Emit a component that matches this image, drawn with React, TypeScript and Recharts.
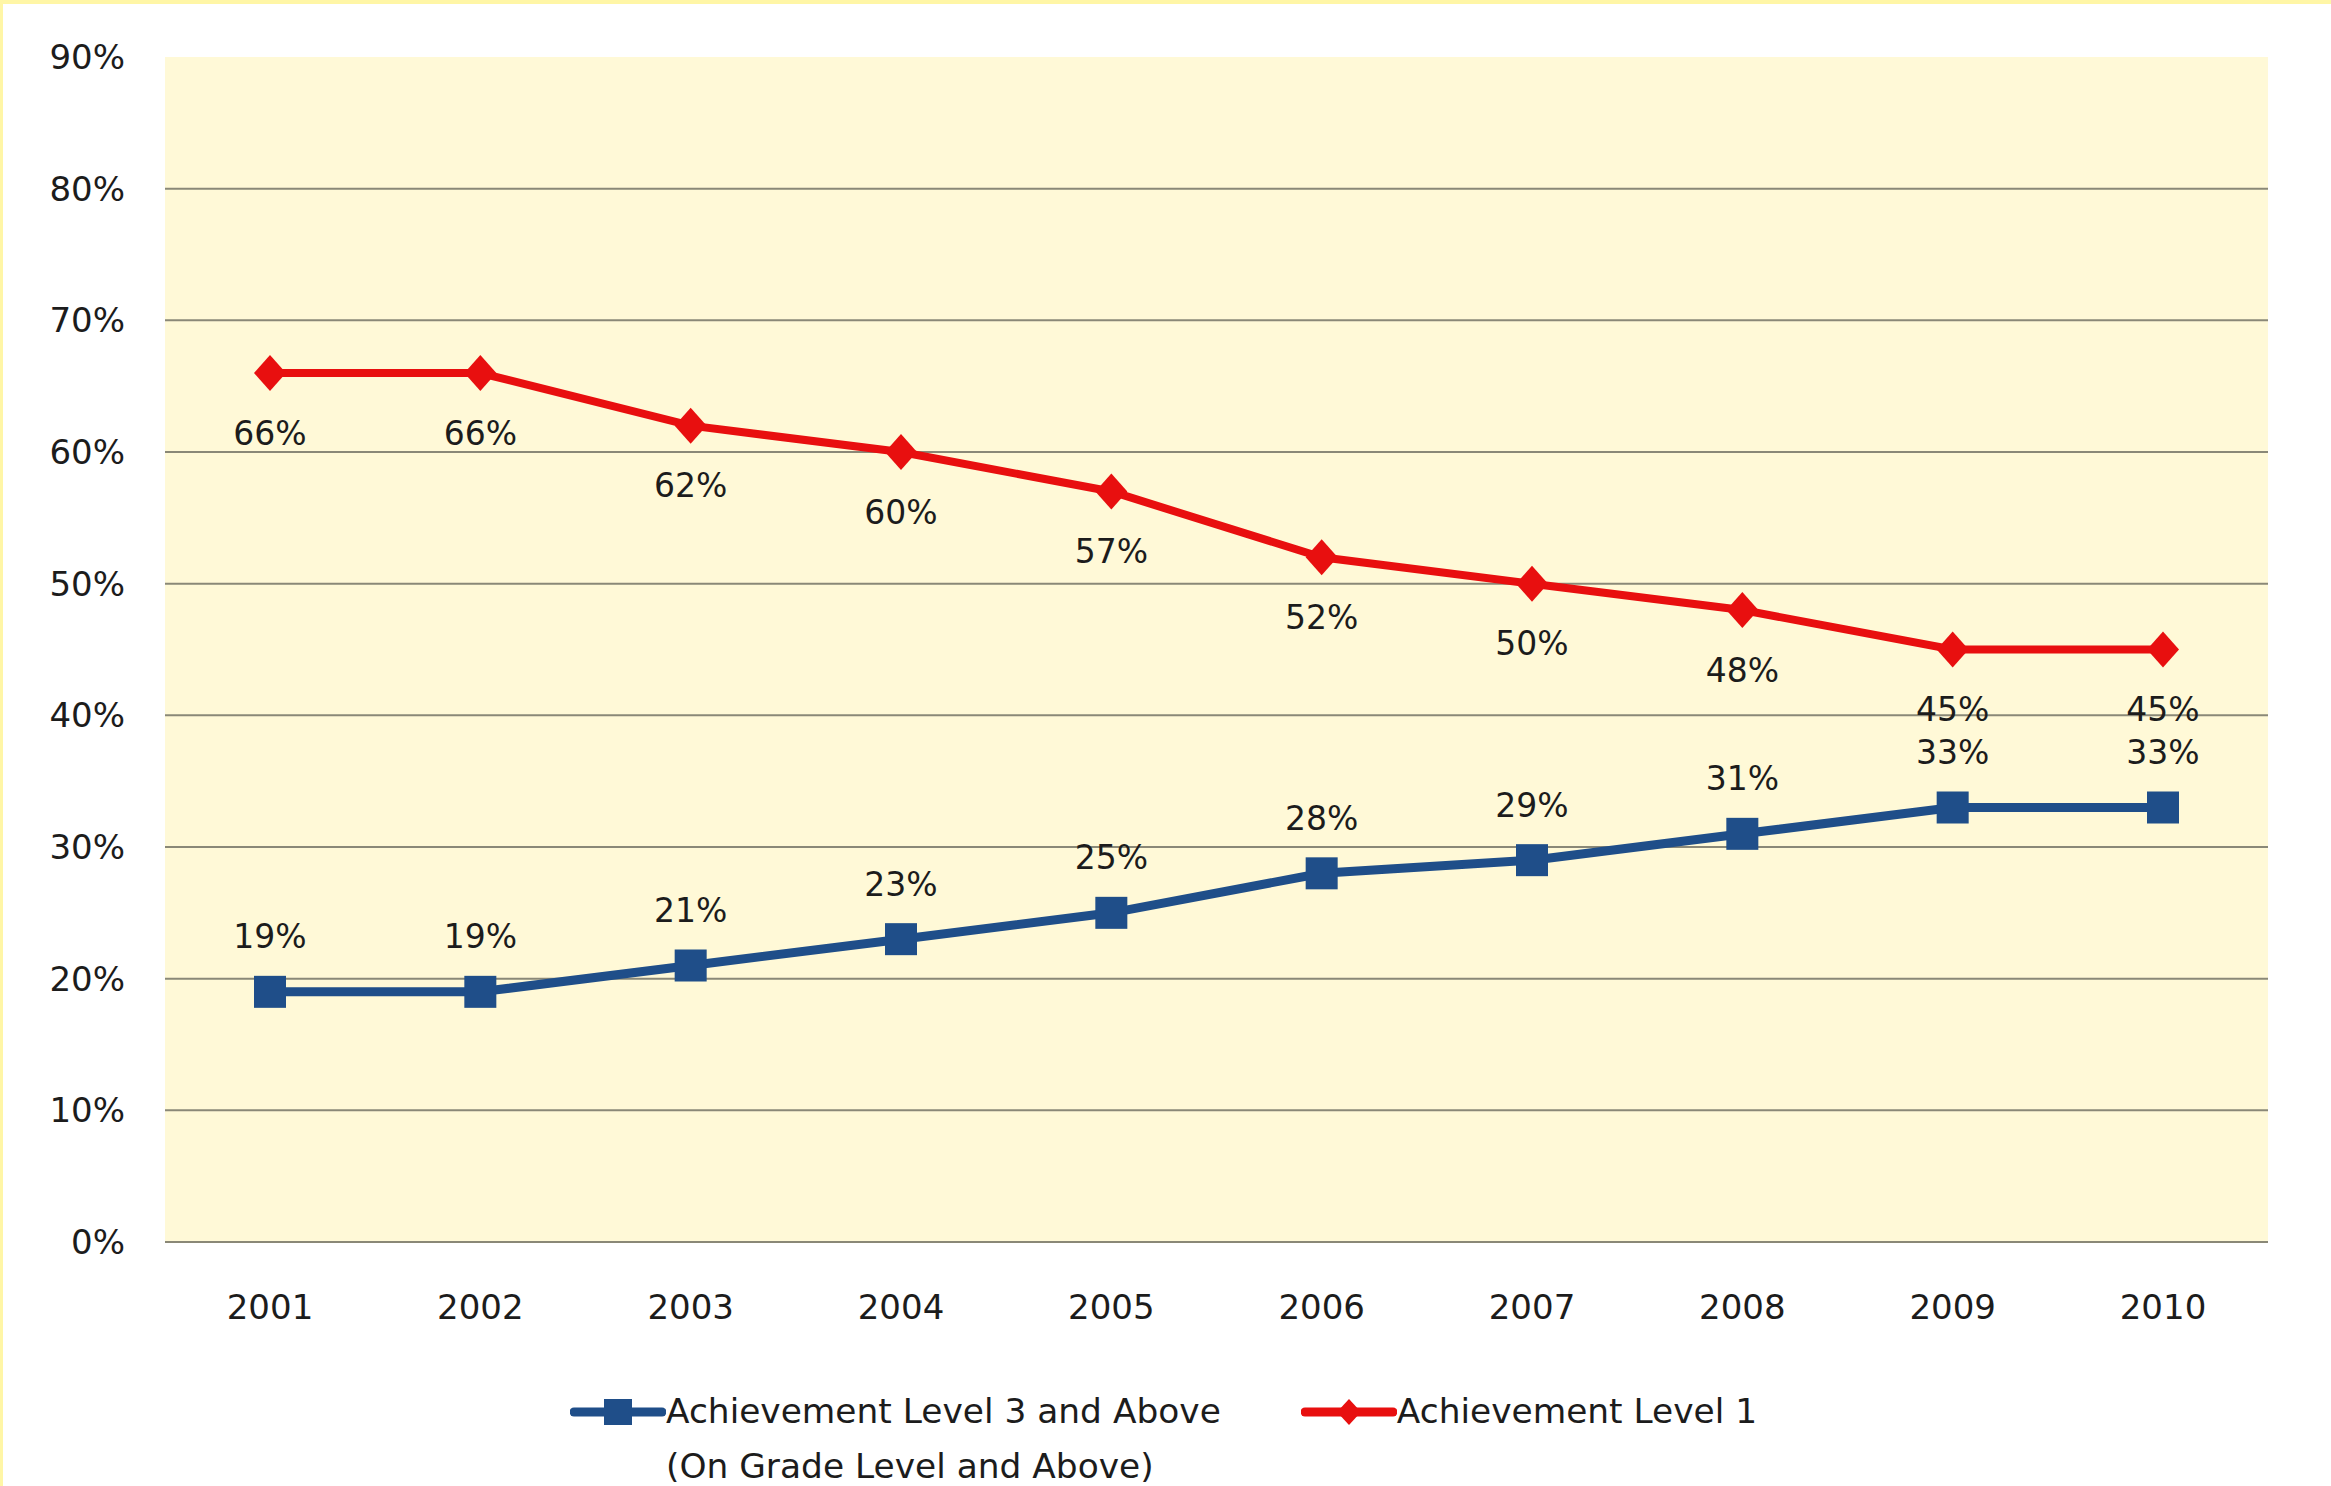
import { LineChart, Line, XAxis, YAxis, CartesianGrid, LabelList } from "recharts"

// school years on the category axis
const YEARS = ["2001", "2002", "2003", "2004", "2005", "2006", "2007", "2008", "2009", "2010"]

// percent of students per achievement band
const LEVEL3_AND_ABOVE = [19, 19, 21, 23, 25, 28, 29, 31, 33, 33]
const LEVEL1 = [66, 66, 62, 60, 57, 52, 50, 48, 45, 45]

const Y_TICKS = [0, 10, 20, 30, 40, 50, 60, 70, 80, 90]
const Y_MAX = 90

const BLUE = "#1f4e89"
const RED = "#e80f0f"
const GRID = "#8a8877"
const PLOT_BG = "#fff9d7"
const FRAME = "#fff6a6"
const TEXT = "#1c1c1c"
const FONT = "'DejaVu Sans', Verdana, sans-serif"

const W = 2331
const H = 1486

const chartData = YEARS.map((year, i) => ({
  year,
  level3: LEVEL3_AND_ABOVE[i],
  level1: LEVEL1[i],
}))

// square markers for the level 3+ series
const SquareDot = (props: any) => {
  const { cx, cy, index } = props
  if (cx == null || cy == null) return null
  return <rect key={`sq-${index}`} x={cx - 16} y={cy - 16} width={32} height={32} fill={BLUE} />
}

// diamond markers for the level 1 series
const DiamondDot = (props: any) => {
  const { cx, cy, index } = props
  if (cx == null || cy == null) return null
  const w = 16
  const h = 18
  return (
    <polygon
      key={`dm-${index}`}
      points={`${cx},${cy - h} ${cx + w},${cy} ${cx},${cy + h} ${cx - w},${cy}`}
      fill={RED}
    />
  )
}

// value labels: level 1 sits under its points, level 3+ above
const makeLabel = (dy: number) => (props: any) => {
  const { x, y, value, index } = props
  return (
    <text
      key={`lbl-${dy}-${index}`}
      x={x}
      y={y + dy}
      textAnchor="middle"
      dominantBaseline="central"
      fontFamily={FONT}
      fontSize={33}
      fill={TEXT}
    >
      {`${value}%`}
    </text>
  )
}

// gridlines only between 0% and 90% (the axis line covers 0%)
const gridRows = (props: any) => {
  const { offset } = props
  const scale = props.yAxis?.scale
  return Y_TICKS.filter((t) => t > 0 && t < Y_MAX).map((t) =>
    typeof scale === "function" ? scale(t) : offset.top + offset.height * (1 - t / Y_MAX)
  )
}

function LegendItem({ color, marker, lines }: { color: string; marker: "square" | "diamond"; lines: string[] }) {
  return (
    <div style={{ display: "flex", alignItems: "flex-start" }}>
      <svg width={96} height={40} style={{ marginTop: 8, flexShrink: 0 }}>
        <line x1={4} y1={20} x2={92} y2={20} stroke={color} strokeWidth={9} strokeLinecap="round" />
        {marker === "square" ? (
          <rect x={34} y={7} width={28} height={26} fill={color} />
        ) : (
          <polygon points="48,7 60,20 48,33 36,20" fill={color} />
        )}
      </svg>
      <div style={{ fontFamily: FONT, fontSize: 34.4, color: TEXT, lineHeight: "55px", whiteSpace: "nowrap" }}>
        {lines.map((l) => (
          <div key={l}>{l}</div>
        ))}
      </div>
    </div>
  )
}

export default function App() {
  return (
    <div style={{ position: "absolute", left: 0, top: 0, width: W, height: H, background: "#fff", overflow: "hidden" }}>
      <LineChart width={W} height={H} data={chartData} margin={{ top: 57, right: 63, left: 0, bottom: 164 }}>
        <CartesianGrid
          vertical={false}
          fill={PLOT_BG}
          stroke={GRID}
          strokeWidth={2}
          horizontalCoordinatesGenerator={gridRows}
        />
        <XAxis
          dataKey="year"
          height={80}
          padding={{ left: 105, right: 105 }}
          axisLine={{ stroke: GRID, strokeWidth: 2 }}
          tickLine={false}
          tickSize={0}
          tickMargin={53}
          interval={0}
          tick={{ fill: TEXT, fontSize: 34, fontFamily: FONT }}
        />
        <YAxis
          type="number"
          domain={[0, Y_MAX]}
          ticks={Y_TICKS}
          interval={0}
          width={165}
          axisLine={false}
          tickLine={false}
          tickSize={0}
          tickMargin={40}
          tickFormatter={(v: number) => `${v}%`}
          tick={{ fill: TEXT, fontSize: 34, fontFamily: FONT }}
        />
        <Line
          dataKey="level3"
          name="Achievement Level 3 and Above"
          stroke={BLUE}
          strokeWidth={9}
          dot={SquareDot}
          activeDot={false}
          isAnimationActive={false}
        >
          <LabelList dataKey="level3" content={makeLabel(-55)} />
        </Line>
        <Line
          dataKey="level1"
          name="Achievement Level 1"
          stroke={RED}
          strokeWidth={8}
          dot={DiamondDot}
          activeDot={false}
          isAnimationActive={false}
        >
          <LabelList dataKey="level1" content={makeLabel(60)} />
        </Line>
      </LineChart>

      {/* legend under the chart */}
      <div style={{ position: "absolute", left: 570, top: 1384, display: "flex" }}>
        <LegendItem color={BLUE} marker="square" lines={["Achievement Level 3 and Above", "(On Grade Level and Above)"]} />
        <div style={{ width: 80 }} />
        <LegendItem color={RED} marker="diamond" lines={["Achievement Level 1"]} />
      </div>

      {/* thin yellow frame along the top and left edges */}
      <div style={{ position: "absolute", left: 0, top: 0, width: W, height: 4, background: FRAME }} />
      <div style={{ position: "absolute", left: 0, top: 0, width: 3, height: H, background: FRAME }} />
    </div>
  )
}
